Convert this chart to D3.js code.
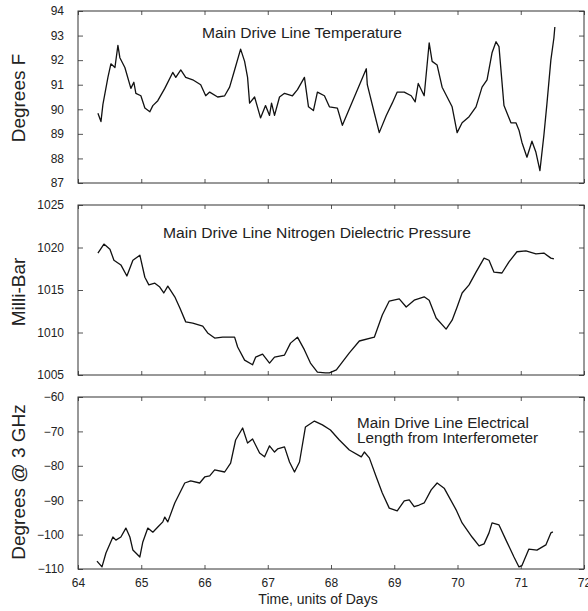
<!DOCTYPE html>
<html><head><meta charset="utf-8">
<script src="https://cdn.jsdelivr.net/npm/d3@7/dist/d3.min.js"></script>
<style>
body{margin:0;background:#fff}
svg{display:block}
text{font-family:"Liberation Sans",Arial,Helvetica,sans-serif;fill:#222}
</style>
</head><body><svg id="c" width="588" height="611"></svg>
<script>
// ---- data ----
const xTicks=[64,65,66,67,68,69,70,71,72];

const tempDays=[64.315,64.363,64.394,64.473,64.520,64.584,64.631,64.662,64.741,64.836,64.883,64.915,64.994,65.057,65.136,65.183,65.262,65.372,65.498,65.546,65.625,65.703,65.814,65.940,66.019,66.082,66.208,66.319,66.397,66.476,66.571,66.634,66.681,66.713,66.792,66.886,66.965,67.028,67.060,67.107,67.186,67.265,67.391,67.470,67.580,67.644,67.722,67.785,67.896,67.975,68.101,68.180,68.558,68.574,68.685,68.763,68.874,68.968,69.047,69.158,69.268,69.331,69.379,69.473,69.552,69.599,69.678,69.757,69.836,69.915,69.994,70.073,70.183,70.293,70.388,70.467,70.546,70.609,70.656,70.735,70.845,70.924,70.972,71.019,71.098,71.177,71.240,71.303,71.366,71.413,71.476,71.524,71.539];
const tempVals=[89.84,89.5,90.2,91.3,91.85,91.7,92.6,92.1,91.7,90.85,91.1,90.65,90.55,90.05,89.9,90.15,90.35,90.85,91.5,91.3,91.6,91.3,91.2,91.0,90.55,90.7,90.5,90.55,90.9,91.6,92.45,91.95,91.3,90.25,90.5,89.65,90.15,89.75,90.25,89.75,90.5,90.65,90.55,90.8,91.3,90.1,89.95,90.7,90.55,90.1,90.05,89.35,91.65,91.0,89.85,89.05,89.75,90.25,90.7,90.7,90.55,90.3,91.05,90.55,92.7,91.95,91.8,90.9,90.5,90.1,89.05,89.45,89.7,90.1,90.9,91.2,92.3,92.75,92.55,90.15,89.45,89.45,89.15,88.65,88.05,88.7,88.25,87.5,88.95,90.2,92.0,92.9,93.35];
const tempTicks=[87,88,89,90,91,92,93,94];

const presDays=[64.315,64.410,64.505,64.568,64.678,64.773,64.868,64.978,65.057,65.120,65.215,65.293,65.356,65.420,65.530,65.609,65.703,65.814,65.972,66.050,66.161,66.287,66.476,66.524,66.634,66.760,66.808,66.918,67.028,67.107,67.265,67.360,67.470,67.580,67.675,67.785,67.912,67.975,68.085,68.290,68.448,68.685,68.811,68.921,69.079,69.189,69.315,69.473,69.552,69.662,69.820,69.915,69.994,70.073,70.183,70.293,70.420,70.498,70.577,70.703,70.814,70.940,71.082,71.240,71.366,71.476,71.524];
const presVals=[1019.35,1020.4,1019.8,1018.5,1017.95,1016.65,1018.5,1019.1,1016.5,1015.6,1015.8,1015.35,1014.65,1015.45,1014.2,1012.9,1011.25,1011.1,1010.75,1009.95,1009.35,1009.45,1009.45,1008.3,1006.75,1006.2,1007.1,1007.45,1006.4,1007.1,1007.35,1008.75,1009.45,1007.95,1006.4,1005.35,1005.25,1005.25,1005.6,1007.6,1009.0,1009.45,1012.05,1013.7,1013.95,1013.0,1013.8,1014.2,1013.8,1011.7,1010.4,1011.45,1013.0,1014.65,1015.6,1017.1,1018.75,1018.5,1017.1,1017.0,1018.3,1019.5,1019.6,1019.25,1019.35,1018.75,1018.65];
const presTicks=[1005,1010,1015,1020,1025];

const elecDays=[64.300,64.379,64.442,64.552,64.599,64.678,64.757,64.820,64.868,64.978,65.025,65.104,65.183,65.262,65.341,65.372,65.420,65.530,65.688,65.782,65.924,66.003,66.082,66.161,66.319,66.413,66.492,66.603,66.681,66.760,66.871,66.950,67.028,67.107,67.155,67.265,67.344,67.423,67.502,67.596,67.738,67.864,67.991,68.132,68.290,68.479,68.527,68.606,68.716,68.811,68.921,69.047,69.158,69.237,69.315,69.394,69.473,69.584,69.678,69.789,69.978,70.073,70.230,70.341,70.420,70.498,70.546,70.656,70.767,70.893,70.972,71.019,71.129,71.256,71.397,71.476,71.508];
const elecVals=[-107.7,-109.4,-105.35,-100.7,-101.6,-100.7,-98.1,-100.7,-104.5,-106.5,-102.15,-98.1,-99.3,-97.8,-96.3,-94.9,-96.3,-90.8,-85.0,-84.4,-85.0,-83.25,-82.95,-81.2,-81.8,-79.2,-72.5,-69.0,-73.4,-72.2,-76.3,-77.4,-74.2,-76.0,-75.1,-74.5,-78.9,-81.8,-78.9,-68.7,-67.0,-68.1,-69.6,-72.5,-75.4,-77.4,-76.0,-77.7,-83.25,-87.9,-92.3,-93.1,-90.2,-89.9,-91.9,-91.4,-90.8,-87.0,-85.0,-86.5,-92.8,-96.6,-100.7,-103.3,-102.7,-99.5,-96.6,-97.2,-101.6,-106.5,-109.4,-109.0,-104.2,-104.5,-103.0,-99.5,-99.2];
const elecTicks=[-110,-100,-90,-80,-70,-60];

// ---- layout ----
const svg=d3.select("#c");
const L=78,R=584;
const x=d3.scaleLinear().domain([64,72]).range([L,R]);

const panels=[
 {top:11,bottom:183,days:tempDays,vals:tempVals,ticks:tempTicks,ylabel:"Degrees F",ly:98,
  titles:[{t:"Main Drive Line Temperature",x:202,y:38,len:200}]},
 {top:205,bottom:375,days:presDays,vals:presVals,ticks:presTicks,ylabel:"Milli-Bar",ly:292,
  titles:[{t:"Main Drive Line Nitrogen Dielectric Pressure",x:163,y:238,len:308}]},
 {top:397,bottom:569,days:elecDays,vals:elecVals,ticks:elecTicks,ylabel:"Degrees @ 3 GHz",ly:482,
  titles:[{t:"Main Drive Line Electrical",x:357,y:428,len:172},{t:"Length from Interferometer",x:357,y:443,len:181}]}
];

panels.forEach((p,i)=>{
  const y=d3.scaleLinear().domain([p.ticks[0],p.ticks[p.ticks.length-1]]).range([p.bottom,p.top]);
  const g=svg.append("g");
  // left axis labels + inside ticks
  const ax=g.append("g").attr("transform",`translate(${L},0)`)
    .call(d3.axisLeft(y).tickValues(p.ticks).tickSize(-5).tickPadding(14).tickFormat(d3.format("d")));
  ax.select(".domain").remove();
  ax.selectAll("line").attr("stroke","#555");
  ax.selectAll("text").attr("font-size",12).attr("fill","#333").style("font-family",'"Liberation Sans",Arial,sans-serif');
  // right inside ticks
  const ar=g.append("g").attr("transform",`translate(${R},0)`)
    .call(d3.axisRight(y).tickValues(p.ticks).tickSize(-5).tickFormat(""));
  ar.select(".domain").remove();
  ar.selectAll("line").attr("stroke","#555");
  // top/bottom inside ticks
  const ab=g.append("g").attr("transform",`translate(0,${p.bottom})`)
    .call(d3.axisBottom(x).tickValues(xTicks).tickSize(-4).tickPadding(9).tickFormat(i===2?d3.format("d"):""));
  ab.select(".domain").remove();
  ab.selectAll("line").attr("stroke","#555");
  ab.selectAll("text").attr("font-size",12).attr("fill","#333").style("font-family",'"Liberation Sans",Arial,sans-serif');
  const at=g.append("g").attr("transform",`translate(0,${p.top})`)
    .call(d3.axisTop(x).tickValues(xTicks).tickSize(-4).tickFormat(""));
  at.select(".domain").remove();
  at.selectAll("line").attr("stroke","#555");
  // frame
  g.append("rect").attr("x",L).attr("y",p.top).attr("width",R-L).attr("height",p.bottom-p.top)
    .attr("fill","none").attr("stroke","#333").attr("stroke-width",1);
  // data line
  const data=p.days.map((d,k)=>[d,p.vals[k]]);
  g.append("path").datum(data)
    .attr("d",d3.line().x(d=>x(d[0])).y(d=>y(d[1])))
    .attr("fill","none").attr("stroke","#111").attr("stroke-width",1.3).attr("stroke-linejoin","round");
  // titles
  p.titles.forEach(t=>{
    g.append("text").attr("x",t.x).attr("y",t.y).attr("font-size",14)
      .attr("textLength",t.len).attr("lengthAdjust","spacingAndGlyphs").text(t.t);
  });
  // y label
  g.append("text").attr("transform",`translate(25,${p.ly}) rotate(-90)`)
    .attr("text-anchor","middle").attr("font-size",19).text(p.ylabel);
});

svg.append("text").attr("x",318).attr("y",604).attr("text-anchor","middle")
  .attr("font-size",14).text("Time, units of Days");
</script>
</body></html>
